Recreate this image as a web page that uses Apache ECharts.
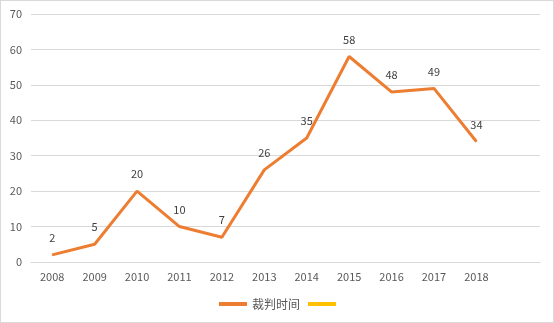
<!DOCTYPE html>
<html><head><meta charset="utf-8">
<script src="https://cdn.jsdelivr.net/npm/echarts@6/dist/echarts.min.js"></script>
<style>html,body{margin:0;padding:0;background:#fff}#c{width:554px;height:323px;box-sizing:border-box;border:1px solid #d9d9d9}</style>
</head><body><div id="c"></div>
<script>
const categories = ['2008','2009','2010','2011','2012','2013','2014','2015','2016','2017','2018',''];
const values = [2,5,20,10,7,26,35,58,48,49,34];
const seriesName = '裁判时间';
const yTicks = {min:0,max:70,interval:10};
const chart = echarts.init(document.getElementById('c'));
const font = '"Microsoft YaHei","Noto Sans CJK SC",sans-serif';
chart.setOption({
  animation:false,
  textStyle:{fontFamily:font},
  grid:{left:30,right:13,top:13,bottom:60},
  legend:{bottom:7,left:213,itemWidth:28,itemHeight:4,itemGap:8,icon:'rect',
    textStyle:{color:'#595959',fontSize:12,fontFamily:font},
    data:[seriesName,' ']},
  xAxis:{type:'category',data:categories,boundaryGap:true,
    axisLine:{lineStyle:{color:'#d9d9d9'}},axisTick:{show:false},
    axisLabel:{color:'#595959',fontSize:11,margin:9,interval:0}},
  yAxis:{type:'value',min:yTicks.min,max:yTicks.max,interval:yTicks.interval,
    axisLine:{show:false},axisTick:{show:false},
    splitLine:{lineStyle:{color:'#d9d9d9'}},
    axisLabel:{color:'#595959',fontSize:11,margin:9}},
  series:[
    {name:seriesName,type:'line',data:values,symbol:'circle',symbolSize:1,showSymbol:true,
     lineStyle:{color:'#ED7D31',width:3},itemStyle:{color:'#ED7D31'},
     label:{show:true,position:'top',distance:11,color:'#404040',fontSize:11}},
    {name:' ',type:'line',data:[],symbol:'none',lineStyle:{color:'#FFC000',width:3},itemStyle:{color:'#FFC000'}}
  ]
});
</script></body></html>
